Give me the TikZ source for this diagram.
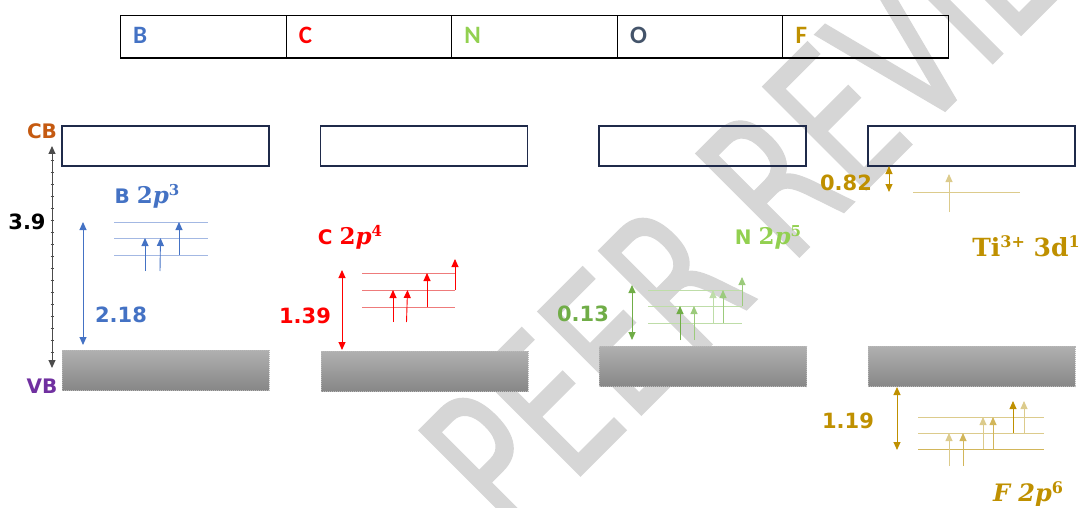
\documentclass[tikz,border=0pt]{standalone}
\usepackage{fontspec}
\setmainfont{DejaVu Sans}
\newfontfamily\calfont{Carlito}
\newfontfamily\serfont{DejaVu Serif}
\newfontfamily\wmfont[FakeStretch=0.68,FakeBold=1]{DejaVu Sans}
\usetikzlibrary{arrows.meta}
\definecolor{cBlue}{HTML}{4472C4}
\definecolor{cBlueL}{HTML}{A3B8E3}
\definecolor{cRed}{HTML}{FF0000}
\definecolor{cRedL}{HTML}{EE7B7B}
\definecolor{cGreen}{HTML}{70AD47}
\definecolor{cGreenLbl}{HTML}{92D050}
\definecolor{cGreenL}{HTML}{BEDDA8}
\definecolor{cGreenM}{HTML}{9CCB7C}
\definecolor{cGold}{HTML}{BF9000}
\definecolor{cGoldL}{HTML}{DCCB8C}
\definecolor{cGoldM}{HTML}{D2B65A}
\definecolor{cNavy}{HTML}{1F2A4A}
\definecolor{cCB}{HTML}{C55A11}
\definecolor{cVB}{HTML}{7030A0}
\definecolor{cO}{HTML}{44546A}
\definecolor{vbTop}{HTML}{B0B0B0}
\definecolor{vbBot}{HTML}{878787}
\definecolor{wmGray}{HTML}{D6D6D6}
\newcommand\orbsup[1]{\raisebox{8pt}{\fontsize{15}{15}\selectfont #1}}
\newcommand\orbtxt[1]{{\serfont\bfseries\fontsize{23}{23}\selectfont 2\itshape p\upshape\orbsup{#1}}}
\tikzset{
  cell/.style={draw=black, line width=1pt, minimum width=165.6pt, minimum height=42pt, inner sep=0, anchor=north west},
  cellltr/.style={anchor=west, inner sep=0, font=\calfont\bfseries\fontsize{25}{25}\selectfont},
  cbbox/.style={draw=cNavy, line width=1.2pt, minimum width=207pt, minimum height=40pt, inner sep=0},
  vbbox/.style={top color=vbTop, bottom color=vbBot, draw=gray!55, densely dotted, line width=1pt, minimum width=207pt, minimum height=40pt, inner sep=0},
  num/.style={inner sep=0, font=\bfseries\fontsize{21}{21}\selectfont},
  orb/.style={inner sep=0, font=\bfseries\fontsize{20}{20}\selectfont},
  arr/.style={-{Triangle[width=7pt,length=8pt]}, line width=0.9pt},
  darr/.style={{Triangle[width=7pt,length=8pt]}-{Triangle[width=7pt,length=8pt]}, line width=1pt},
  lvl/.style={line width=0.8pt},
}
\begin{document}
\begin{tikzpicture}[x=1pt,y=-1pt]
\useasboundingbox (0,0) rectangle (1087,508);
% watermark
\begin{scope}
\clip (0,0) rectangle (1087,508);
\node[rotate=45, anchor=base west, text=wmGray, inner sep=0, font=\wmfont\fontsize{200}{200}\selectfont] (wm) at (513,543) {PEER REVIEW};
\end{scope}
% top element strip
\node[cell] (cellB) at (120,15) {};
\node[cell] (cellC) at (285.6,15) {};
\node[cell] (cellN) at (451.2,15) {};
\node[cell] (cellO) at (616.8,15) {};
\node[cell] (cellF) at (782.4,15) {};
\draw[line width=2pt] (cellB.south west) -- (cellF.south east);
\node[cellltr, text=cBlue] (lB) at ([xshift=13pt,yshift=1pt]cellB.west) {B};
\node[cellltr, text=cRed] (lC) at ([xshift=13pt,yshift=1pt]cellC.west) {C};
\node[cellltr, text=cGreenLbl] (lN) at ([xshift=13pt,yshift=1pt]cellN.west) {N};
\node[cellltr, text=cO] (lO) at ([xshift=13pt,yshift=1pt]cellO.west) {O};
\node[cellltr, text=cGold] (lF) at ([xshift=13pt,yshift=1pt]cellF.west) {F};
% CB boxes
\node[cbbox] (cb1) at (165.5,146) {};
\node[cbbox] (cb2) at (424,146) {};
\node[cbbox] (cb3) at (702.5,146) {};
\node[cbbox] (cb4) at (971.5,146) {};
% VB boxes
\node[vbbox] (vb1) at (165.5,370) {};
\node[vbbox] (vb2) at (424.5,371) {};
\node[vbbox] (vb3) at (703,366.5) {};
\node[vbbox] (vb4) at (971.5,366.5) {};
% CB / VB labels and 3.9 gap
\node[num, text=cCB, font=\bfseries\fontsize{20}{20}\selectfont] (lcb) at (42,131) {CB};
\node[num, text=cVB, font=\bfseries\fontsize{20}{20}\selectfont] (lvb) at (42,386) {VB};
\coordinate (g1t) at (52,146);
\coordinate (g1b) at (52,368);
\draw[darr, draw=gray!60!black, fill=black] (g1t) -- (g1b);
\foreach \yy in {160,172,...,356} \draw[line width=0.5pt, gray!60!black] (50.5,\yy) -- (53.5,\yy);
\node[num] (l39) at (27,222) {3.9};
% ---- B panel
\node[orb, text=cBlue] (tB) at (147,196) {B \orbtxt{3}};
\draw[darr, cBlue] (83,222) -- (83,345);
\node[num, text=cBlue] (n218) at (121,315) {2.18};
\foreach \yy in {222,238,255} \draw[lvl, cBlueL] (114,\yy) -- (208,\yy);
\draw[arr, cBlue] (145,271) -- (145,238);
\draw[arr, cBlue] (160,271) -- (160.5,238);
\draw[arr, cBlue] (179,255) -- (179,222);
% ---- C panel
\node[orb, text=cRed] (tC) at (350,237) {C \orbtxt{4}};
\draw[darr, cRed] (342,270) -- (342,350);
\node[num, text=cRed] (n139) at (305,316) {1.39};
\foreach \yy in {273,290,307} \draw[lvl, cRedL] (362,\yy) -- (455,\yy);
\draw[arr, cRed] (393,322) -- (393,290);
\draw[arr, cRed] (406.5,322) -- (407.5,290);
\draw[arr, cRed] (427,307) -- (427,273);
\draw[arr, cRed] (455,290) -- (455,259);
% ---- N panel
\node[orb, text=cGreenLbl] (tN) at (768,237) {N \orbtxt{5}};
\draw[darr, cGreen] (632,285) -- (632,340);
\node[num, text=cGreen] (n013) at (583,314) {0.13};
\foreach \yy in {290,306,323} \draw[lvl, cGreenL] (648,\yy) -- (742,\yy);
\draw[arr, cGreen] (680,340) -- (680,306);
\draw[arr, cGreenM] (694,340) -- (694,306);
\draw[arr, cGreenL] (713,323) -- (713,290);
\draw[arr, cGreenM] (723,323) -- (723,290);
\draw[arr, cGreenM] (742,306) -- (742,277);
% ---- Ti panel
\draw[darr, cGold] (889,166) -- (889,192);
\node[num, text=cGold] (n082) at (846,183) {0.82};
\draw[lvl, cGoldL] (913,192) -- (1020,192);
\draw[arr, cGoldL] (949,212) -- (949,174);
\node[inner sep=0, text=cGold, font=\serfont\bfseries\fontsize{25}{25}\selectfont] (tTi) at (1026,246) {Ti\raisebox{9pt}{\fontsize{16}{16}\selectfont 3+} 3d\raisebox{9pt}{\fontsize{16}{16}\selectfont 1}};
% ---- F panel
\draw[darr, cGold] (897,387) -- (897,450);
\node[num, text=cGold] (n119) at (848,421) {1.19};
\foreach \yy in {417,433} \draw[lvl, cGoldL] (918,\yy) -- (1044,\yy);
\draw[lvl, cGoldM] (918,449) -- (1044,449);
\draw[arr, cGoldL] (949,466) -- (949,433);
\draw[arr, cGoldM] (963,466) -- (963,433);
\draw[arr, cGoldL] (983,449) -- (983,417);
\draw[arr, cGoldM] (993,449) -- (993,417);
\draw[arr, cGold] (1013,433) -- (1013,401);
\draw[arr, cGoldL] (1024,433) -- (1024,401);
\node[inner sep=0, text=cGold, font=\serfont\bfseries\itshape\fontsize{24}{24}\selectfont] (tF) at (1028,494) {F 2p\raisebox{8pt}{\upshape\fontsize{16}{16}\selectfont 6}};
\end{tikzpicture}
\end{document}
